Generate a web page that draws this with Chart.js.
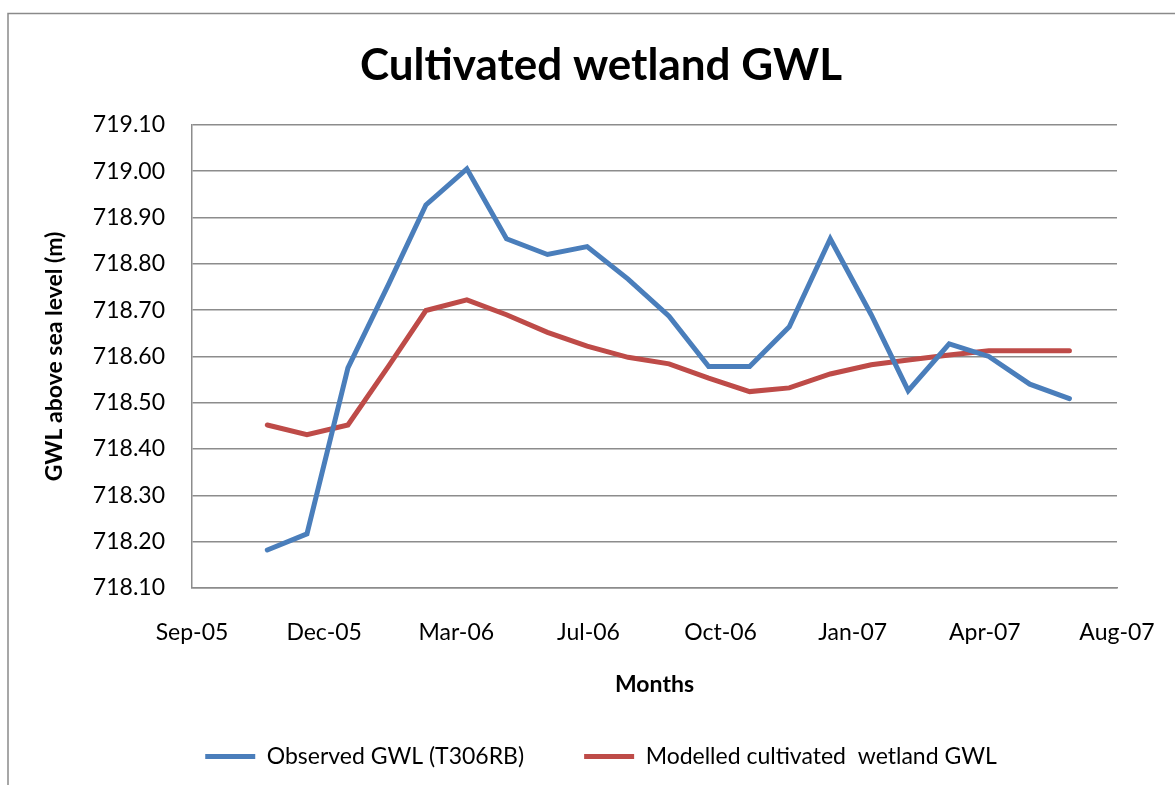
<!DOCTYPE html>
<html>
<head>
<meta charset="utf-8">
<script src="https://cdn.jsdelivr.net/npm/chart.js@4.4.1/dist/chart.umd.min.js"></script>
<style>
  body { margin: 0; background: #ffffff; overflow: hidden; }
  #wrap { width: 1175px; height: 785px; position: relative; }
</style>
</head>
<body>
<div id="wrap"><canvas id="gwlChart"></canvas></div>
<script>
// monthly readings (first of each month)
var readingDates = ['2005-11-01', '2005-12-01', '2006-01-01', '2006-02-01', '2006-03-01', '2006-04-01',
    '2006-05-01', '2006-06-01', '2006-07-01', '2006-08-01', '2006-09-01', '2006-10-01', '2006-11-01',
    '2006-12-01', '2007-01-01', '2007-02-01', '2007-03-01', '2007-04-01', '2007-05-01', '2007-06-01',
    '2007-07-01'];
var observedGWL = [718.182, 718.217, 718.575, 718.757, 718.927, 719.005, 718.854, 718.820, 718.837,
    718.767, 718.687, 718.578, 718.578, 718.664, 718.854, 718.690, 718.526, 718.627, 718.600, 718.540,
    718.509];
var modelledGWL = [718.452, 718.431, 718.452, 718.580, 718.699, 718.722, 718.690, 718.652, 718.622,
    718.598, 718.584, 718.553, 718.524, 718.532, 718.562, 718.582, 718.592, 718.603, 718.612, 718.612,
    718.612];
var seriesNames = ['Observed GWL (T306RB)', 'Modelled cultivated  wetland GWL'];
var monthNames = ['Jan', 'Feb', 'Mar', 'Apr', 'May', 'Jun', 'Jul', 'Aug', 'Sep', 'Oct', 'Nov', 'Dec'];

// x axis is days counted from the axis start, one major unit every 100 days
var axisStart = Date.UTC(2005, 8, 5);
var DAY = 86400000;

function dayOffset(iso) {
    var p = iso.split('-');
    return (Date.UTC(+p[0], +p[1] - 1, +p[2]) - axisStart) / DAY;
}
function dayLabel(v) {
    var d = new Date(axisStart + v * DAY);
    return monthNames[d.getUTCMonth()] + '-' + String(d.getUTCFullYear()).slice(2);
}
function toPoints(values) {
    return readingDates.map(function(iso, i) {
        return {x: dayOffset(iso), y: values[i]};
    });
}

var FONT = 'Lato, "Open Sans", sans-serif';
var GRID = '#8c8c8c';

// outer chart frame like the spreadsheet one
var framePlugin = {
    id: 'frame',
    beforeDraw: function(chart) {
        var ctx = chart.ctx;
        ctx.save();
        ctx.strokeStyle = '#8a8a8a';
        ctx.lineWidth = 1.5;
        ctx.strokeRect(8, 13.5, 1300, 900);
        ctx.restore();
    }
};

var gwlChart = new Chart(document.getElementById('gwlChart'), {
    type: 'line',
    data: {
        datasets: [{
            label: seriesNames[0],
            data: toPoints(observedGWL),
            borderColor: '#4a7ebb',
            backgroundColor: '#4a7ebb',
            borderWidth: 5,
            borderCapStyle: 'round',
            pointRadius: 0,
            tension: 0
        }, {
            label: seriesNames[1],
            data: toPoints(modelledGWL),
            borderColor: '#be4b48',
            backgroundColor: '#be4b48',
            borderWidth: 5,
            borderCapStyle: 'round',
            pointRadius: 0,
            tension: 0
        }]
    },
    options: {
        responsive: true,
        maintainAspectRatio: false,
        animation: false,
        layout: {padding: {left: 85, right: 58, top: 0, bottom: 7}},
        scales: {
            x: {
                type: 'linear',
                min: 0,
                max: 700,
                afterFit: function(scale) {
                    scale.height = 97;
                    scale.paddingRight = 40;
                },
                ticks: {
                    stepSize: 100,
                    padding: 31,
                    color: '#000',
                    font: {family: FONT, size: 23},
                    callback: function(value) { return dayLabel(value); }
                },
                grid: {display: false, drawTicks: false},
                border: {display: true, color: GRID, width: 1.5},
                title: {
                    display: true,
                    text: 'Months',
                    color: '#000',
                    font: {family: FONT, size: 23, weight: 'bold'},
                    padding: {top: 0, bottom: -13}
                }
            },
            y: {
                min: 718.1,
                max: 719.1,
                afterFit: function(scale) { scale.width = 107; },
                ticks: {
                    stepSize: 0.1,
                    padding: 27,
                    color: '#000',
                    font: {family: FONT, size: 23},
                    callback: function(value) { return value.toFixed(2); }
                },
                grid: {color: GRID, lineWidth: 1.5, drawTicks: false},
                border: {display: true, color: GRID, width: 1.5},
                title: {
                    display: true,
                    text: 'GWL above sea level (m)',
                    color: '#000',
                    font: {family: FONT, size: 23, weight: 'bold'},
                    padding: {top: -44, bottom: 0}
                }
            }
        },
        plugins: {
            title: {
                display: true,
                text: 'Cultivated wetland GWL',
                color: '#000',
                font: {family: FONT, size: 44, weight: 'bold', lineHeight: 1.2},
                padding: {top: 39, bottom: 33}
            },
            legend: {
                position: 'bottom',
                labels: {
                    boxWidth: 50,
                    boxHeight: 0,
                    padding: 60,
                    color: '#000',
                    font: {family: FONT, size: 23}
                }
            },
            tooltip: {enabled: false}
        }
    },
    plugins: [framePlugin]
});
</script>
</body>
</html>
